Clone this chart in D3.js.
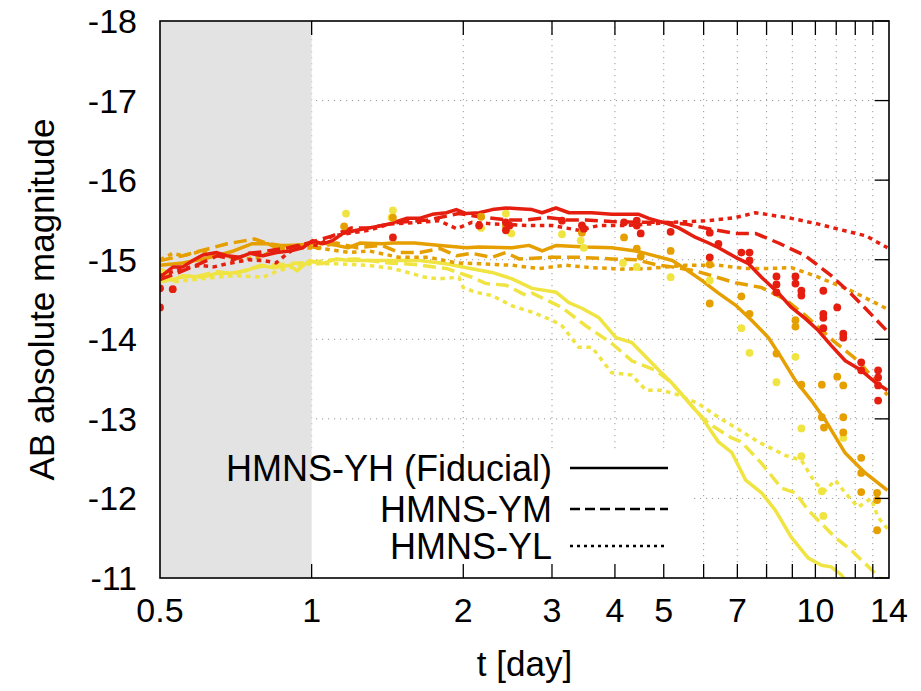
<!DOCTYPE html>
<html>
<head>
<meta charset="utf-8">
<script src="https://cdn.jsdelivr.net/npm/d3@7"></script>
<style>
  body { margin: 0; background: #fff; }
  text { font-family: "Liberation Sans", Arial, Helvetica, sans-serif; fill: #000; }
</style>
</head>
<body>
<div id="chart"></div>
<script>
// light curves, [t in days, AB magnitude]
const redYH = [[0.5,-14.78],[0.531,-14.91],[0.555,-14.91],[0.581,-14.99],[0.608,-15.06],[0.648,-15.09],[0.679,-15.05],[0.72,-15.03],[0.754,-15.08],[0.8,-15.05],[0.852,-15.09],[0.905,-15.11],[0.96,-15.15],[1.004,-15.24],[1.051,-15.2],[1.1,-15.24],[1.152,-15.33],[1.228,-15.37],[1.303,-15.4],[1.427,-15.45],[1.542,-15.52],[1.636,-15.52],[1.736,-15.57],[1.851,-15.59],[1.937,-15.63],[2.027,-15.58],[2.151,-15.59],[2.283,-15.63],[2.433,-15.65],[2.581,-15.64],[2.739,-15.63],[2.867,-15.59],[3.055,-15.65],[3.242,-15.59],[3.6,-15.59],[3.944,-15.57],[4.461,-15.57],[4.669,-15.52],[5.1,-15.45],[5.353,-15.4],[5.785,-15.28],[6.138,-15.21],[6.424,-15.15],[6.942,-15.03],[7.366,-14.95],[7.816,-14.78],[8.446,-14.58],[8.962,-14.4],[9.552,-14.26],[10.136,-14.11],[10.755,-13.92],[11.464,-13.73],[12.33,-13.61],[13.143,-13.46],[13.9,-13.36]];
const redYM = [[0.5,-14.75],[0.55,-14.85],[0.6,-14.95],[0.65,-15.05],[0.7,-15.0],[0.75,-15.08],[0.8,-15.1],[0.9,-15.15],[1.0,-15.22],[1.1,-15.3],[1.2,-15.4],[1.3,-15.4],[1.49,-15.47],[1.7,-15.5],[1.96,-15.58],[2.15,-15.54],[2.43,-15.5],[2.66,-15.5],[2.95,-15.53],[3.2,-15.5],[3.5,-15.5],[3.94,-15.48],[4.46,-15.47],[5.0,-15.47],[5.5,-15.45],[6.14,-15.39],[6.94,-15.33],[7.6,-15.33],[8.45,-15.21],[9.55,-15.05],[10.75,-14.8],[11.78,-14.57],[12.56,-14.39],[13.9,-14.1]];
const redYL = [[0.5,-14.8],[0.55,-14.88],[0.6,-14.93],[0.64,-14.91],[0.68,-14.95],[0.75,-15.0],[0.8,-14.99],[0.85,-14.96],[0.9,-15.09],[0.96,-15.2],[1.03,-15.18],[1.1,-15.3],[1.3,-15.37],[1.43,-15.45],[1.64,-15.47],[1.79,-15.49],[1.94,-15.39],[2.08,-15.47],[2.3,-15.45],[2.67,-15.43],[3.0,-15.43],[3.39,-15.37],[3.72,-15.43],[4.2,-15.43],[4.7,-15.45],[5.2,-15.47],[6.14,-15.49],[6.94,-15.53],[7.6,-15.59],[8.0,-15.57],[8.96,-15.52],[10.1,-15.45],[11.5,-15.36],[12.6,-15.3],[13.9,-15.15]];
const orangeYH = [[0.5,-14.93],[0.555,-14.96],[0.608,-15.01],[0.648,-15.05],[0.7,-15.11],[0.76,-15.2],[0.82,-15.2],[0.86,-15.14],[0.88,-15.18],[0.92,-15.18],[1.0,-15.2],[1.05,-15.21],[1.12,-15.18],[1.18,-15.15],[1.25,-15.21],[1.38,-15.2],[1.45,-15.21],[1.6,-15.21],[1.8,-15.18],[2.03,-15.15],[2.15,-15.16],[2.5,-15.15],[2.7,-15.18],[2.87,-15.11],[3.06,-15.18],[3.5,-15.16],[3.94,-15.15],[4.4,-15.11],[4.6,-15.08],[5.2,-14.99],[5.5,-14.89],[5.95,-14.74],[6.42,-14.58],[6.94,-14.43],[7.47,-14.24],[8.07,-14.02],[8.56,-13.77],[9.13,-13.48],[9.82,-13.23],[10.47,-12.98],[11.46,-12.57],[12.56,-12.32],[13.9,-12.1]];
const orangeYM = [[0.5,-14.99],[0.555,-15.05],[0.6,-15.11],[0.68,-15.2],[0.77,-15.26],[0.82,-15.2],[0.87,-15.18],[0.94,-15.18],[1.03,-15.15],[1.12,-15.21],[1.23,-15.15],[1.38,-15.18],[1.49,-15.09],[1.64,-15.09],[1.8,-15.14],[1.94,-15.05],[2.08,-15.08],[2.28,-15.03],[2.43,-15.09],[2.58,-15.01],[3.0,-15.03],[3.24,-15.03],[3.4,-15.03],[3.94,-15.01],[4.4,-15.0],[4.89,-14.93],[5.2,-14.91],[5.78,-14.86],[6.94,-14.71],[7.82,-14.65],[8.72,-14.5],[9.55,-14.3],[10.95,-13.96],[12.16,-13.73],[13.14,-13.48],[13.9,-13.3]];
const orangeYL = [[0.5,-15.0],[0.53,-15.08],[0.555,-15.05],[0.608,-15.11],[0.648,-15.05],[0.74,-15.01],[0.79,-15.03],[0.85,-15.14],[0.92,-15.14],[0.99,-15.15],[1.05,-15.14],[1.19,-15.09],[1.3,-15.11],[1.49,-15.03],[1.71,-15.03],[1.94,-14.96],[2.15,-14.95],[2.5,-14.93],[2.83,-14.89],[3.2,-14.93],[3.6,-14.9],[3.94,-14.89],[4.07,-14.88],[4.67,-14.89],[5.53,-14.93],[6.42,-14.93],[7.27,-14.89],[8.07,-14.89],[8.96,-14.9],[10.14,-14.78],[11.78,-14.61],[13.9,-14.38]];
const yellowYH = [[0.5,-14.88],[0.51,-14.86],[0.53,-14.74],[0.555,-14.8],[0.608,-14.78],[0.648,-14.83],[0.69,-14.83],[0.74,-14.86],[0.79,-14.93],[0.84,-14.9],[0.905,-14.93],[0.935,-14.86],[0.99,-14.99],[1.05,-14.95],[1.12,-15.01],[1.19,-14.99],[1.3,-14.99],[1.43,-14.99],[1.64,-14.99],[1.85,-14.95],[2.03,-14.9],[2.28,-14.84],[2.5,-14.76],[2.74,-14.64],[3.06,-14.59],[3.24,-14.46],[3.44,-14.39],[3.72,-14.27],[4.02,-14.02],[4.32,-13.96],[4.89,-13.61],[5.19,-13.45],[5.95,-13.02],[6.42,-12.71],[6.82,-12.58],[7.27,-12.23],[7.82,-12.07],[8.33,-11.85],[8.96,-11.51],[9.68,-11.25],[10.28,-11.16],[10.75,-11.14],[11.26,-11.04],[11.8,-10.85]];
const yellowYM = [[0.5,-14.72],[0.55,-14.78],[0.6,-14.8],[0.65,-14.85],[0.7,-14.82],[0.75,-14.88],[0.8,-14.92],[0.9,-14.95],[1.0,-14.97],[1.1,-15.0],[1.23,-15.01],[1.3,-14.99],[1.42,-14.96],[1.6,-14.94],[1.85,-14.89],[2.08,-14.78],[2.22,-14.7],[2.43,-14.68],[2.67,-14.55],[2.74,-14.58],[3.14,-14.4],[3.29,-14.3],[3.5,-14.17],[3.94,-13.95],[4.32,-13.73],[4.82,-13.61],[5.19,-13.45],[5.78,-13.11],[6.14,-12.94],[6.82,-12.76],[7.13,-12.71],[7.82,-12.44],[8.56,-12.13],[9.13,-12.07],[9.68,-11.85],[10.95,-11.51],[11.78,-11.35],[13.14,-11.06],[13.6,-10.95]];
const yellowYL = [[0.5,-14.85],[0.53,-14.72],[0.6,-14.76],[0.7,-14.8],[0.8,-14.78],[0.85,-14.85],[0.9,-14.9],[1.0,-14.95],[1.13,-14.95],[1.29,-14.93],[1.45,-14.89],[1.68,-14.78],[1.79,-14.76],[1.96,-14.78],[2.0,-14.65],[2.12,-14.59],[2.28,-14.55],[2.5,-14.42],[2.74,-14.34],[3.0,-14.24],[3.14,-14.17],[3.39,-13.9],[3.6,-13.9],[3.94,-13.58],[4.32,-13.55],[4.61,-13.36],[4.95,-13.36],[5.35,-13.3],[5.86,-13.19],[6.42,-13.02],[6.94,-12.89],[7.71,-12.71],[8.72,-12.54],[9.38,-12.48],[10.0,-12.19],[10.47,-12.1],[10.95,-12.23],[11.46,-12.07],[12.16,-11.89],[12.9,-12.0],[13.32,-11.76],[13.9,-11.62]];

// scattered points
const redDots = [[0.5,-14.4],[0.5,-14.64],[0.53,-14.63],[1.45,-15.28],[2.15,-15.43],[2.43,-15.47],[2.43,-15.37],[2.47,-15.43],[3.14,-15.49],[3.44,-15.43],[3.47,-15.39],[4.17,-15.47],[4.42,-15.49],[4.42,-15.43],[4.5,-15.33],[5.16,-15.35],[6.17,-15.34],[6.17,-15.03],[6.42,-15.2],[7.13,-15.09],[7.4,-15.09],[7.4,-14.99],[8.37,-14.79],[8.37,-14.69],[8.37,-14.59],[9.13,-14.79],[9.13,-14.7],[9.38,-14.61],[9.38,-14.55],[10.37,-14.61],[10.37,-14.32],[10.37,-14.27],[10.37,-14.14],[11.05,-14.4],[11.36,-14.07],[11.36,-14.02],[12.33,-13.71],[12.33,-13.61],[13.32,-13.61],[13.32,-13.52],[13.32,-13.42],[13.32,-13.23]];
const orangeDots = [[1.16,-15.42],[1.45,-15.53],[2.17,-15.54],[2.43,-15.43],[3.44,-15.34],[4.17,-15.28],[4.42,-15.14],[4.5,-15.04],[5.16,-15.11],[6.17,-14.94],[6.17,-14.45],[7.13,-14.54],[7.4,-14.32],[8.37,-13.82],[9.13,-14.24],[9.13,-14.16],[9.38,-13.43],[10.3,-13.43],[11.05,-13.53],[11.36,-13.42],[10.3,-13.02],[10.4,-12.89],[11.36,-13.02],[11.36,-12.83],[12.33,-12.51],[12.33,-12.32],[12.33,-12.08],[13.26,-12.07],[13.26,-11.98],[13.26,-11.6]];
const yellowDots = [[1.17,-15.58],[1.45,-15.62],[1.44,-15.53],[2.17,-15.4],[2.43,-15.58],[2.49,-15.33],[3.14,-15.32],[3.42,-15.24],[3.47,-15.15],[4.15,-14.96],[4.42,-14.91],[5.16,-14.78],[6.17,-14.74],[7.13,-14.14],[7.4,-13.83],[8.37,-13.46],[9.13,-13.78],[9.38,-12.88],[9.38,-12.53],[11.36,-12.76],[10.3,-12.09],[10.37,-11.78]];

const xLabelTicks = [0.5, 1, 2, 3, 4, 5, 7, 10, 14];
const xMarkTicks = [1, 2, 3, 4, 5, 6, 7, 8, 9, 10, 11, 12, 13];
const yTicks = [-18, -17, -16, -15, -14, -13, -12, -11];
const shadeRange = [0.5, 1];
const legendNames = ["HMNS-YH (Fiducial)", "HMNS-YM", "HMNS-YL"];

const colors = { red: "#e51e10", orange: "#e69f00", yellow: "#f0e442" };
const dashes = { H: null, M: "13,6", L: "4.5,4.5" };

const series = [
  { data: yellowYH, c: "yellow", s: "H" }, { data: yellowYM, c: "yellow", s: "M" }, { data: yellowYL, c: "yellow", s: "L" },
  { data: orangeYH, c: "orange", s: "H" }, { data: orangeYM, c: "orange", s: "M" }, { data: orangeYL, c: "orange", s: "L" },
  { data: redYH, c: "red", s: "H" }, { data: redYM, c: "red", s: "M" }, { data: redYL, c: "red", s: "L" }
];

const W = 921, H = 691;
const pL = 160, pR = 889, pT = 21, pB = 578;

const svg = d3.select("#chart").append("svg")
  .attr("width", W).attr("height", H);

const x = d3.scaleLog().domain([0.5, 14]).range([pL, pR]);
const y = d3.scaleLinear().domain([-18, -11]).range([pT, pB]);

svg.append("defs").append("clipPath").attr("id", "plot")
  .append("rect").attr("x", pL).attr("y", pT)
  .attr("width", pR - pL).attr("height", pB - pT);

// grid
const grid = svg.append("g")
  .attr("stroke", "#999").attr("stroke-width", 1).attr("stroke-dasharray", "1.2,4.8");
grid.selectAll("line.v").data(xMarkTicks).enter().append("line")
  .attr("x1", d => x(d)).attr("x2", d => x(d)).attr("y1", pT).attr("y2", pB);
grid.selectAll("line.h").data(yTicks.slice(1, -1)).enter().append("line")
  .attr("x1", pL).attr("x2", pR).attr("y1", d => y(d)).attr("y2", d => y(d));

// key background hides the grid
svg.append("rect").attr("x", pL).attr("y", 452)
  .attr("width", 690 - pL).attr("height", pB - 452).attr("fill", "#fff");

// shaded early-time region
svg.append("rect")
  .attr("x", x(shadeRange[0])).attr("y", pT)
  .attr("width", x(shadeRange[1]) - x(shadeRange[0])).attr("height", pB - pT)
  .attr("fill", "#e3e3e3");

const line = d3.line().x(d => x(d[0])).y(d => y(d[1]));

const plot = svg.append("g").attr("clip-path", "url(#plot)");
plot.selectAll("path.curve").data(series).enter().append("path")
  .attr("class", "curve")
  .attr("d", d => line(d.data))
  .attr("fill", "none")
  .attr("stroke", d => colors[d.c])
  .attr("stroke-width", 3.5)
  .attr("stroke-linejoin", "round")
  .attr("stroke-dasharray", d => dashes[d.s]);

const dotSets = [[yellowDots, "yellow"], [orangeDots, "orange"], [redDots, "red"]];
dotSets.forEach(([pts, c]) => {
  plot.append("g").selectAll("circle").data(pts).enter().append("circle")
    .attr("cx", d => x(d[0])).attr("cy", d => y(d[1])).attr("r", 3.9)
    .attr("fill", colors[c]);
});

// frame and ticks
const axes = svg.append("g").attr("stroke", "#000");
axes.append("rect").attr("x", pL).attr("y", pT)
  .attr("width", pR - pL).attr("height", pB - pT)
  .attr("fill", "none").attr("stroke-width", 1.6);
axes.selectAll("line.xb").data(xMarkTicks).enter().append("line")
  .attr("x1", d => x(d)).attr("x2", d => x(d)).attr("y1", pB).attr("y2", pB - 14).attr("stroke-width", 1.3);
axes.selectAll("line.xt").data(xMarkTicks).enter().append("line")
  .attr("x1", d => x(d)).attr("x2", d => x(d)).attr("y1", pT).attr("y2", pT + 14).attr("stroke-width", 1.3);
axes.selectAll("line.yr").data(yTicks).enter().append("line")
  .attr("x1", pR).attr("x2", pR - 14).attr("y1", d => y(d)).attr("y2", d => y(d)).attr("stroke-width", 1.3);

// tick labels
svg.selectAll("text.xl").data(xLabelTicks).enter().append("text")
  .attr("x", d => x(d)).attr("y", 622).attr("text-anchor", "middle")
  .style("font-size", "34px").text(d => d);
svg.selectAll("text.yl").data(yTicks).enter().append("text")
  .attr("x", 137).attr("y", d => y(d) + 12).attr("text-anchor", "end")
  .style("font-size", "34px").text(d => d);

svg.append("text").attr("x", (pL + pR) / 2).attr("y", 676)
  .attr("text-anchor", "middle").style("font-size", "35px").text("t [day]");
svg.append("text")
  .attr("transform", `translate(54,${(pT + pB) / 2}) rotate(-90)`)
  .attr("text-anchor", "middle").style("font-size", "35px").text("AB absolute magnitude");

// key
const keyY = [468, 509, 546];
const keyDash = [null, "10,5", "3,4"];
legendNames.forEach((name, i) => {
  svg.append("text").attr("x", 552).attr("y", keyY[i] + 13)
    .attr("text-anchor", "end").style("font-size", "36px").text(name);
  svg.append("line").attr("x1", 570).attr("x2", 668)
    .attr("y1", keyY[i]).attr("y2", keyY[i])
    .attr("stroke", "#000").attr("stroke-width", 2.6)
    .attr("stroke-dasharray", keyDash[i]);
});
</script>
</body>
</html>
